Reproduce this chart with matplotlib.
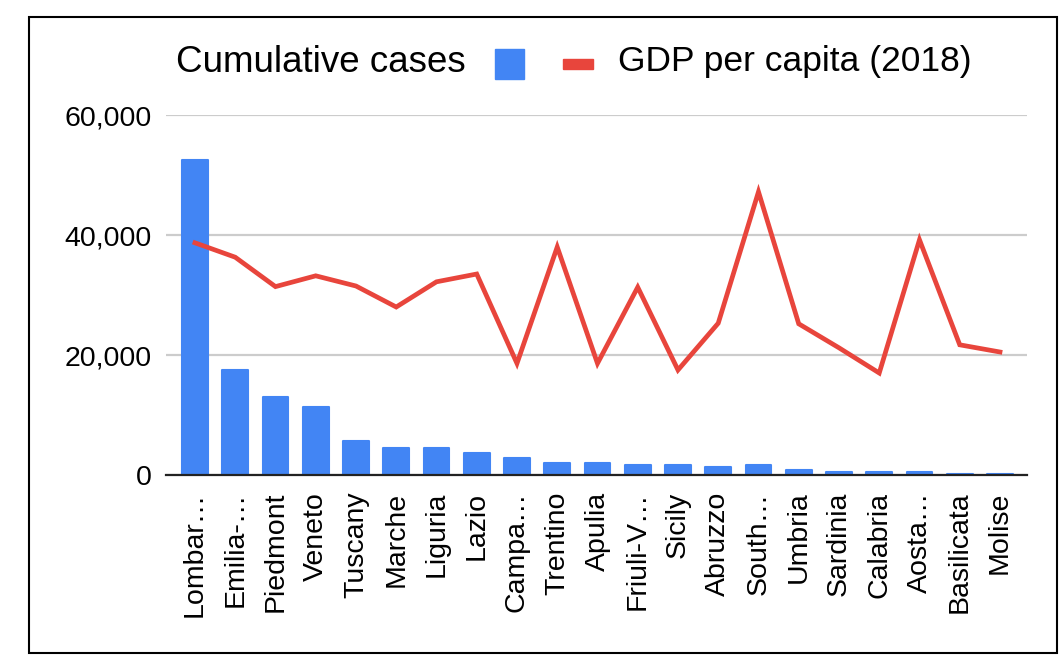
import numpy as np
import matplotlib
matplotlib.use("Agg")
import matplotlib.pyplot as plt
from matplotlib.patches import Rectangle
from matplotlib.ticker import FuncFormatter

plt.rcParams['font.family'] = ['Liberation Sans', 'DejaVu Sans']

# data
regions = ["Lombar\u2026", "Emilia-\u2026", "Piedmont", "Veneto", "Tuscany", "Marche",
           "Liguria", "Lazio", "Campa\u2026", "Trentino", "Apulia", "Friuli-V\u2026",
           "Sicily", "Abruzzo", "South\u2026", "Umbria", "Sardinia", "Calabria",
           "Aosta\u2026", "Basilicata", "Molise"]
cases = [52500, 17500, 13000, 11300, 5700, 4500, 4500, 3700, 2900, 2000, 2000,
         1700, 1700, 1300, 1700, 900, 500, 500, 500, 100, 100]
gdp = [38700, 36300, 31400, 33200, 31500, 28000, 32200, 33500, 18600, 38000,
       18600, 31300, 17500, 25300, 47200, 25200, 21200, 17000, 39200, 21700, 20500]
yticks = [0, 20000, 40000, 60000]

blue = '#4285F4'
red = '#E8453C'

fig = plt.figure(figsize=(10.62, 6.55), dpi=100)
ax = fig.add_axes([0.1563, 0.2748, 0.8107, 0.5496])

x = np.arange(len(regions))
ax.bar(x, cases, width=0.64, color=blue, ec=blue, lw=1.5, joinstyle='round', zorder=2)
ax.plot(x, gdp, color=red, lw=3.4, zorder=3, solid_joinstyle='miter')

ax.set_xlim(-0.72, len(regions) - 1 + 0.67)
ax.set_ylim(0, 60000)
ax.set_yticks(yticks)
ax.yaxis.set_major_formatter(FuncFormatter(lambda v, p: f"{int(v):,}"))
ax.set_xticks(x)
ax.set_xticklabels(regions, rotation=90)
ax.tick_params(axis='y', length=0, pad=10, labelsize=20.5)
ax.tick_params(axis='x', length=0, pad=12, labelsize=20.5)
ax.grid(axis='y', color='#cccccc', lw=1.6, zorder=0)
for s in ['top', 'right', 'left']:
    ax.spines[s].set_visible(False)
ax.spines['bottom'].set_color('#222222')
ax.spines['bottom'].set_linewidth(1.6)
ax.spines['bottom'].set_zorder(4)

# legend drawn by hand (text then marker, marker then text)
fig.text(176 / 1062, 1 - 62 / 655, "Cumulative cases", fontsize=26.5, va='center', ha='left')
fig.patches.append(Rectangle((495 / 1062, 1 - 79 / 655), 29 / 1062, 30 / 655,
                             transform=fig.transFigure, color=blue))
fig.patches.append(Rectangle((563 / 1062, 1 - 69 / 655), 30 / 1062, 10 / 655,
                             transform=fig.transFigure, color=red))
fig.text(618 / 1062, 1 - 62 / 655, "GDP per capita (2018)", fontsize=25.5, va='center', ha='left')

# outer frame
fig.patches.append(Rectangle((29 / 1062, 2 / 655), 1028 / 1062, 636 / 655,
                             transform=fig.transFigure, fill=False, ec='black', lw=1.5))

fig.savefig("out.png", dpi=100)
